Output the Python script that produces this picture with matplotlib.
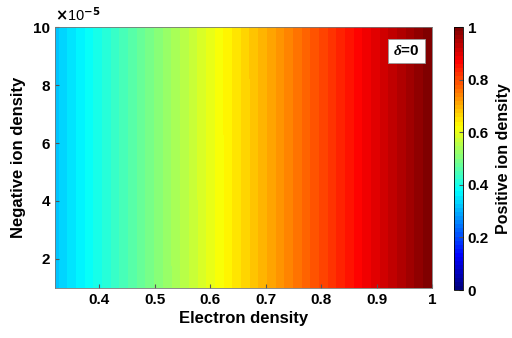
import numpy as np
import matplotlib.pyplot as plt
from matplotlib.colors import LinearSegmentedColormap

plt.rcParams['font.family'] = ['Liberation Sans', 'DejaVu Sans']
plt.rcParams['font.weight'] = 'bold'
plt.rcParams['mathtext.fontset'] = 'custom'
plt.rcParams['mathtext.it'] = 'Liberation Serif:italic'

# grid of electron and negative ion densities
electron_density = [0.32, 0.40, 0.50, 0.60, 0.70, 0.80, 0.90, 1.00]
negative_ion_density = [1e-5, 4e-5, 7e-5, 10e-5]
cbar_ticks = [0, 0.2, 0.4, 0.6, 0.8, 1]

ne, nn = np.meshgrid(electron_density, negative_ion_density)
# quasi-neutrality with delta = 0
positive_ion_density = ne + nn

# matlab-style jet with 64 entries
jet_m = LinearSegmentedColormap('jet_m', {
    'red':   [(0, 0, 0), (0.375, 0, 0), (0.625, 1, 1), (0.875, 1, 1), (1, 0.5, 0.5)],
    'green': [(0, 0, 0), (0.125, 0, 0), (0.375, 1, 1), (0.625, 1, 1), (0.875, 0, 0), (1, 0, 0)],
    'blue':  [(0, 0.5, 0.5), (0.125, 1, 1), (0.375, 1, 1), (0.625, 0, 0), (1, 0, 0)],
}, N=64)

fig = plt.figure(figsize=(5.12, 3.38), dpi=100)
ax = fig.add_axes([0.107, 0.148, 0.737, 0.772])
cax = fig.add_axes([0.887, 0.142, 0.017, 0.778])

levels = np.linspace(0, 1, 65)
cf = ax.contourf(ne, nn, positive_ion_density, levels=levels, cmap=jet_m,
                 vmin=0, vmax=1, antialiased=False)

ax.set_xlim(0.32, 1.0)
ax.set_ylim(1e-5, 10e-5)
ax.set_xticks([0.4, 0.5, 0.6, 0.7, 0.8, 0.9, 1.0])
ax.set_xticklabels(['0.4', '0.5', '0.6', '0.7', '0.8', '0.9', '1'])
ax.set_yticks([2e-5, 4e-5, 6e-5, 8e-5, 10e-5])
ax.set_yticklabels(['2', '4', '6', '8', '10'])
ax.tick_params(direction='in', length=3, labelsize=11, color='#555555')
for s in ax.spines.values():
    s.set_color('#777777')
    s.set_linewidth(0.6)

ax.text(0.0, 1.01, r'$\times$10$^{-5}$', transform=ax.transAxes,
        fontsize=10.5, fontweight='normal', va='bottom', ha='left')
ax.set_xlabel('Electron density', fontsize=12, fontweight='bold', labelpad=3)
ax.set_ylabel('Negative ion density', fontsize=12, fontweight='bold', labelpad=5)

ax.text(0.967, 0.935, r'$\delta$=0', transform=ax.transAxes, fontsize=11,
        fontweight='bold', ha='right', va='top',
        bbox=dict(boxstyle='square,pad=0.35', fc='white', ec='#999999', lw=0.6))

sm = plt.cm.ScalarMappable(cmap=jet_m, norm=plt.Normalize(0, 1))
cb = fig.colorbar(sm, cax=cax, ticks=cbar_ticks)
cb.ax.set_yticklabels(['0', '0.2', '0.4', '0.6', '0.8', '1'])
cb.ax.tick_params(direction='in', length=3, labelsize=11, color='#555555')
cb.outline.set_linewidth(0.6)
cb.set_label('Positive ion density', fontsize=11.5, fontweight='bold', labelpad=5)

fig.savefig('out.png', dpi=100)
